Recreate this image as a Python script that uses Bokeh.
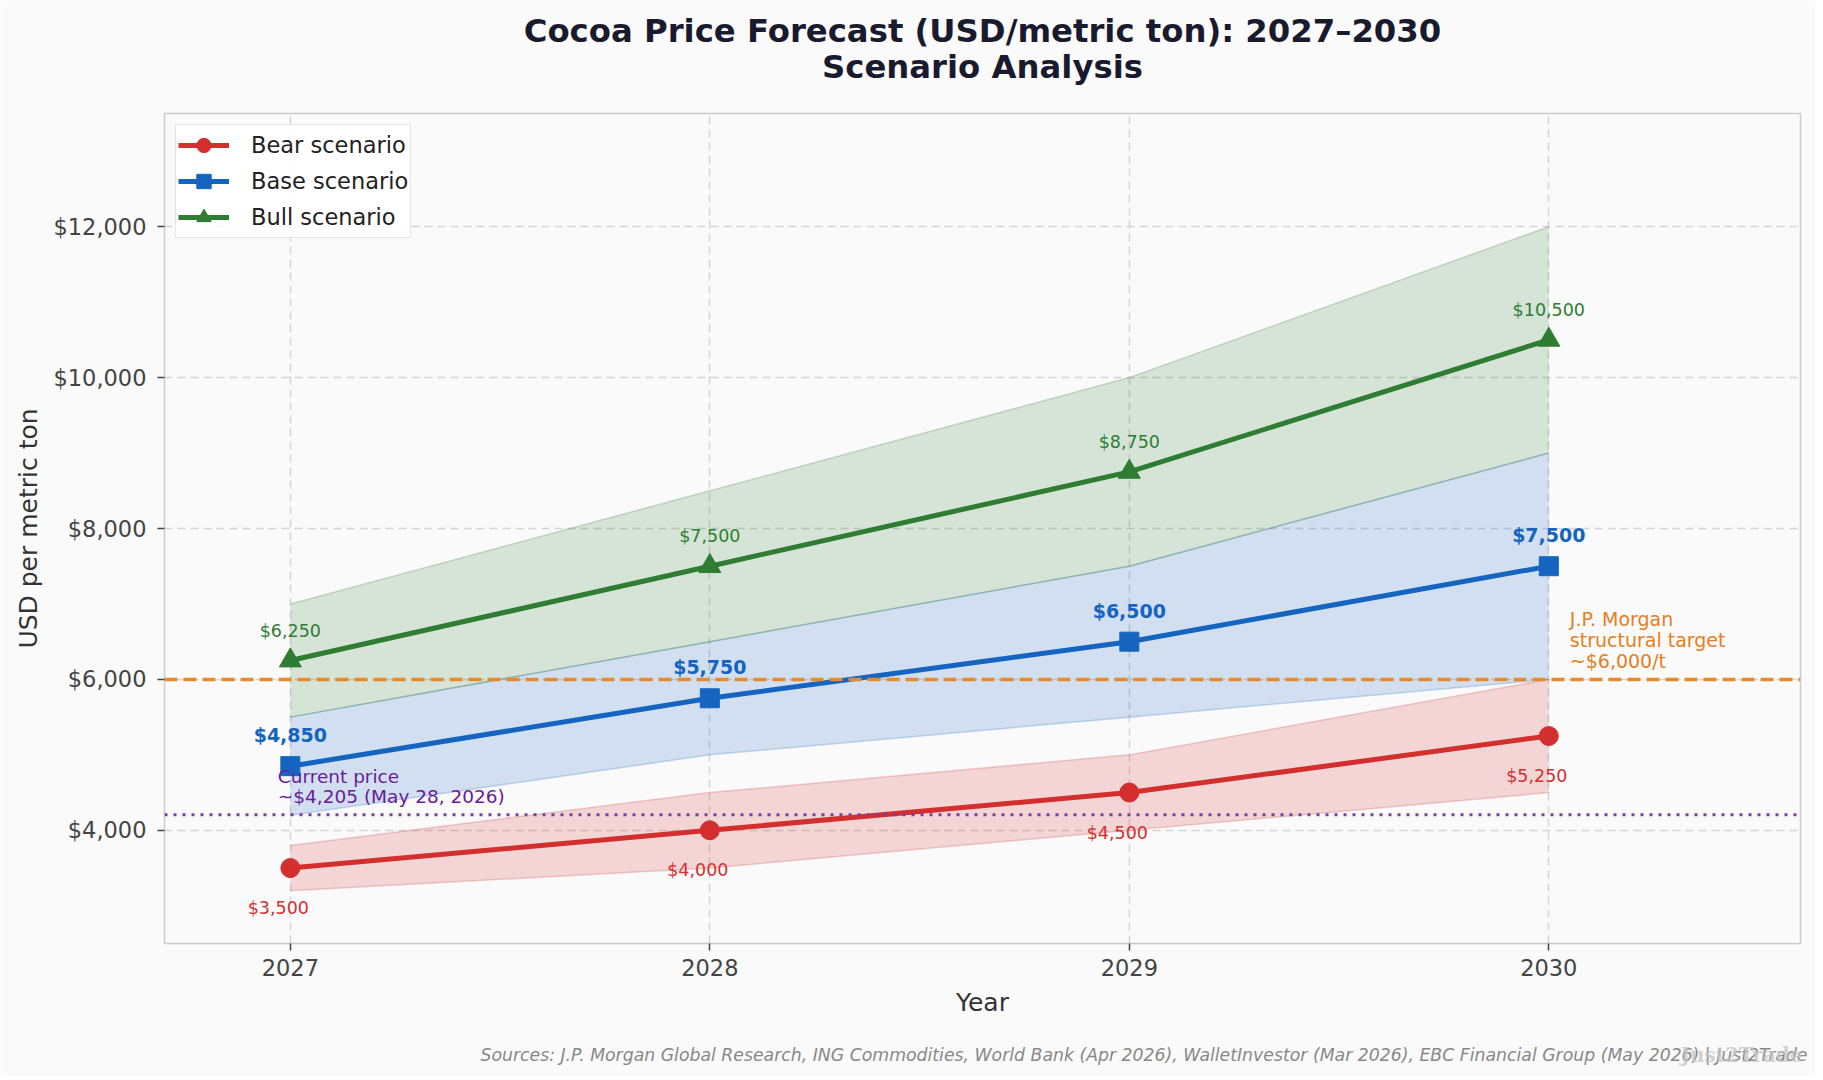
from bokeh.plotting import figure
from bokeh.models import (Range1d, FixedTicker, NumeralTickFormatter, Label,
                          LabelSet, ColumnDataSource, Span, Title)
from bokeh.core.properties import value
from bokeh.embed import file_html
from bokeh.resources import INLINE

# ---------------- data ----------------
years = [2027, 2028, 2029, 2030]
bear = [3500, 4000, 4500, 5250]
base = [4850, 5750, 6500, 7500]
bull = [6250, 7500, 8750, 10500]
bear_low = [3200, 3500, 4000, 4500]
bear_high = [3800, 4500, 5000, 6000]
base_low = [4200, 5000, 5500, 6000]
base_high = [5500, 6500, 7500, 9000]
bull_low = [5500, 6500, 7500, 9000]
bull_high = [7000, 8500, 10000, 12000]
current_price = 4205
jpm_target = 6000
x_ticks = [2027, 2028, 2029, 2030]
y_ticks = [4000, 6000, 8000, 10000, 12000]

RED = "#d32f2f"
BLUE = "#1565c0"
GREEN = "#2e7d32"
ORANGE = "#e8892b"
PURPLE = "#7b3fa0"
FONT = "DejaVu Sans"

W, H = 1815, 1076
ML, MT = 164, 113
MR, MB = W - 1800, H - 943

p = figure(width=W, height=H, x_range=Range1d(2026.7, 2030.6),
           y_range=Range1d(2500, 13500), output_backend="svg",
           toolbar_location=None, min_border_left=ML, min_border_right=MR,
           min_border_top=MT, min_border_bottom=MB,
           background_fill_color="#fafafa", border_fill_color="#fafafa",
           outline_line_color="#cccccc", outline_line_width=1.5)

# bands
for lo, hi, c in [(bear_low, bear_high, RED), (base_low, base_high, BLUE),
                  (bull_low, bull_high, GREEN)]:
    p.varea(x=years, y1=lo, y2=hi, fill_color=c, fill_alpha=0.18)
    p.line(years, lo, line_color=c, line_alpha=0.22, line_width=1.5)
    p.line(years, hi, line_color=c, line_alpha=0.22, line_width=1.5)

# reference lines
p.add_layout(Span(location=jpm_target, dimension="width", line_color=ORANGE,
                  line_dash="13 6", line_width=3.5))
p.add_layout(Span(location=current_price, dimension="width", line_color=PURPLE,
                  line_dash="3 6", line_width=3))

# series
for vals, c, marker, size, name in [(bear, RED, "circle", 19, "Bear scenario"),
                                    (base, BLUE, "square", 19, "Base scenario"),
                                    (bull, GREEN, "triangle", 22, "Bull scenario")]:
    p.line(years, vals, line_color=c, line_width=5, legend_label=name)
    p.scatter(years, vals, marker=marker, size=size, fill_color=c,
              line_color=c, legend_label=name)

# value labels
def fmt(v):
    return "${:,}".format(v)

bull_src = ColumnDataSource(dict(x=years, y=bull, t=[fmt(v) for v in bull]))
base_src = ColumnDataSource(dict(x=years, y=base, t=[fmt(v) for v in base]))
bear_src = ColumnDataSource(dict(x=years, y=bear, t=[fmt(v) for v in bear]))

p.add_layout(LabelSet(x="x", y="y", text="t", source=bull_src, y_offset=30,
                      text_align="center", text_baseline="middle",
                      text_font=value(FONT), text_font_size="17.5px",
                      text_color=GREEN))
p.add_layout(LabelSet(x="x", y="y", text="t", source=base_src, y_offset=31,
                      text_align="center", text_baseline="middle",
                      text_font=value(FONT), text_font_size="19px",
                      text_font_style="bold", text_color=BLUE))
p.add_layout(LabelSet(x="x", y="y", text="t", source=bear_src, y_offset=-40,
                      x_offset=-12, text_align="center", text_baseline="middle",
                      text_font=value(FONT), text_font_size="17.5px",
                      text_color=RED))

# annotations
p.add_layout(Label(x=2030.05, y=jpm_target + 100,
                   text="J.P. Morgan\nstructural target\n~$6,000/t",
                   text_align="left", text_baseline="bottom",
                   text_font=FONT, text_font_size="19px", text_color="#e67e22",
                   text_line_height=0.95))
p.add_layout(Label(x=2026.97, y=current_price + 110,
                   text="Current price\n~$4,205 (May 28, 2026)",
                   text_align="left", text_baseline="bottom",
                   text_font=FONT, text_font_size="18.5px", text_color="#6a1b9a",
                   text_line_height=0.92))

# titles (later-added titles sit further from the plot)
p.add_layout(Title(text="Scenario Analysis", align="center", standoff=56,
                   text_font=FONT, text_font_size="32.3px",
                   text_font_style="bold", text_color="#1a1a2e"), "above")
p.add_layout(Title(text="Cocoa Price Forecast (USD/metric ton): 2027\u20132030",
                   align="center", standoff=-64, text_font=FONT,
                   text_font_size="32.3px", text_font_style="bold",
                   text_color="#1a1a2e"), "above")

# spacer, footer and faint watermark below the x axis
p.add_layout(Title(text=" ", standoff=20, text_font_size="1px"), "below")
p.add_layout(Title(text="Sources: J.P. Morgan Global Research, ING Commodities, "
                        "World Bank (Apr 2026), WalletInvestor (Mar 2026), "
                        "EBC Financial Group (May 2026) | Just2Trade",
                   align="right", offset=-7, standoff=0, text_font=FONT,
                   text_font_size="17.3px", text_font_style="italic",
                   text_color="#888888"), "below")
p.add_layout(Title(text="Just2Trade", align="right", offset=-2, standoff=-43,
                   vertical_align="top", text_font="DejaVu Serif",
                   text_font_size="20px", text_color="#c4c4c4",
                   text_alpha=0.75), "below")

# axes
p.xaxis.ticker = FixedTicker(ticks=x_ticks)
p.yaxis.ticker = FixedTicker(ticks=y_ticks)
p.xaxis.formatter = NumeralTickFormatter(format="0")
p.yaxis.formatter = NumeralTickFormatter(format="$0,0")
p.xaxis.axis_label = "Year"
p.yaxis.axis_label = "USD per metric ton"
p.axis.axis_line_color = None
p.axis.minor_tick_line_color = None
p.axis.major_tick_in = 0
p.axis.major_tick_out = 7
p.axis.major_tick_line_color = "#444444"
p.axis.major_tick_line_width = 1.5
p.axis.major_label_text_font = FONT
p.axis.major_label_text_font_size = "22.5px"
p.axis.major_label_text_color = "#444444"
p.axis.axis_label_text_font = FONT
p.axis.axis_label_text_font_size = "25px"
p.axis.axis_label_text_font_style = "normal"
p.axis.axis_label_text_color = "#333333"
p.xaxis.major_label_standoff = 8
p.yaxis.major_label_standoff = 11
p.xaxis.axis_label_standoff = 9
p.yaxis.axis_label_standoff = 7

p.xgrid.ticker = FixedTicker(ticks=x_ticks)
p.ygrid.ticker = FixedTicker(ticks=y_ticks)
p.grid.grid_line_color = "#d4d4d4"
p.grid.grid_line_dash = "8 5"
p.grid.grid_line_width = 1.5

# legend
lg = p.legend[0]
lg.location = "top_left"
lg.margin = 11
lg.padding = 2
lg.spacing = 0
lg.glyph_width = 51
lg.glyph_height = 36
lg.label_height = 24
lg.label_standoff = 22
lg.label_text_font = FONT
lg.label_text_font_size = "22.5px"
lg.label_text_color = "#222222"
lg.border_line_color = "#cccccc"
lg.border_line_width = 1.5
lg.background_fill_color = "#ffffff"
lg.background_fill_alpha = 0.85

open("out.html", "w").write(file_html(p, INLINE))
